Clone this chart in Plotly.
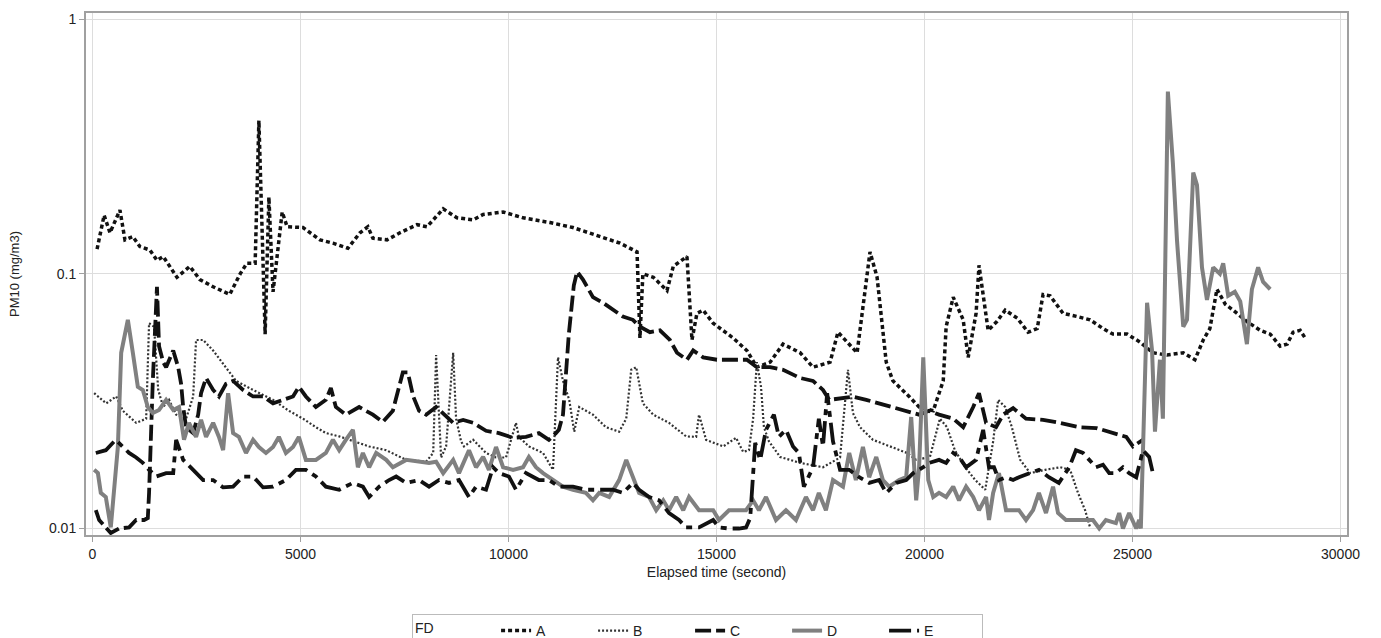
import plotly.graph_objects as go

# ---- data (seconds, mg/m3) ----
a_t = [110, 280, 420, 660, 780, 970, 1140, 1380, 1550, 1700, 2030, 2340, 2580, 2900, 3300, 3550, 3710, 3910,
       4000, 4100, 4150, 4240, 4340, 4560, 4680, 5060, 5470, 5780, 6140, 6430, 6620, 6740, 7080, 7390, 7800,
       8040, 8430, 8760, 9150, 9390, 9870, 10350, 11000, 11550, 12200, 12680, 13090, 13160, 13230, 13480,
       13810, 13960, 14290, 14410, 14530, 14680, 14920, 15400, 15730, 15970, 16290, 16600, 17010, 17320,
       17730, 17920, 18380, 18690, 18860, 19080, 19240, 19480, 19630, 19870, 20210, 20450, 20520, 20690,
       20930, 21050, 21240, 21310, 21530, 21740, 21940, 22230, 22490, 22710, 22850, 23020, 23330, 23670,
       23980, 24290, 24530, 24870, 25180, 25490, 25830, 26220, 26500, 26700, 26860, 27030, 27230, 27420,
       27750, 28070, 28310, 28550, 28720, 28860, 29030, 29150]
a_v = [0.125, 0.17, 0.145, 0.178, 0.136, 0.14, 0.128, 0.124, 0.113, 0.117, 0.097, 0.107, 0.095, 0.089, 0.083,
       0.1, 0.11, 0.11, 0.40, 0.09, 0.058, 0.2, 0.085, 0.175, 0.153, 0.152, 0.136, 0.132, 0.126, 0.145, 0.153,
       0.138, 0.136, 0.145, 0.156, 0.153, 0.18, 0.166, 0.163, 0.171, 0.175, 0.166, 0.159, 0.152, 0.14, 0.132,
       0.122, 0.056, 0.1, 0.097, 0.086, 0.107, 0.117, 0.055, 0.07, 0.072, 0.064, 0.056, 0.05, 0.043, 0.045,
       0.053, 0.049, 0.043, 0.045, 0.059, 0.049, 0.122, 0.097, 0.045, 0.038, 0.035, 0.033, 0.03, 0.029, 0.038,
       0.062, 0.081, 0.066, 0.047, 0.07, 0.108, 0.06, 0.065, 0.072, 0.067, 0.059, 0.061, 0.083, 0.082, 0.07,
       0.068, 0.066, 0.061, 0.058, 0.058, 0.054, 0.049, 0.048, 0.049, 0.046, 0.055, 0.061, 0.087, 0.076,
       0.072, 0.065, 0.06, 0.058, 0.052, 0.053, 0.059, 0.06, 0.056]

b_t = [40, 330, 570, 730, 1050, 1290, 1360, 1480, 1580, 1700, 1840, 2010, 2250, 2420, 2490, 2660, 2900, 3210,
       3450, 3860, 4340, 4720, 5060, 5370, 5610, 5930, 6260, 6650, 7060, 7540, 8020, 8190, 8260, 8330, 8380,
       8500, 8670, 8740, 8860, 8930, 9150, 9460, 9700, 9940, 10180, 10250, 10490, 10830, 11070, 11190, 11310,
       11460, 11580, 11700, 12030, 12340, 12660, 12830, 12950, 13070, 13230, 13480, 13860, 14270, 14510,
       14580, 14750, 15160, 15470, 15640, 15780, 15880, 15970, 16070, 16140, 16260, 16530, 17010, 17560,
       17970, 18160, 18280, 18450, 18760, 19170, 19580, 19800, 20130, 20370, 20540, 20730, 20980, 21220,
       21460, 21650, 21770, 21940, 22100, 22300, 22540, 22900, 23260, 23500, 23690, 23860, 23980]
b_v = [0.034, 0.031, 0.033, 0.029, 0.026, 0.027, 0.064, 0.062, 0.035, 0.030, 0.032, 0.028, 0.027, 0.033,
       0.055, 0.055, 0.05, 0.043, 0.038, 0.035, 0.032, 0.029, 0.027, 0.025, 0.0237, 0.023, 0.022, 0.021,
       0.0203, 0.0186, 0.0183, 0.0198, 0.048, 0.030, 0.019, 0.021, 0.049, 0.027, 0.022, 0.021, 0.0223,
       0.0198, 0.019, 0.019, 0.026, 0.0229, 0.021, 0.0198, 0.017, 0.047, 0.038, 0.032, 0.024, 0.030, 0.028,
       0.025, 0.024, 0.027, 0.042, 0.043, 0.031, 0.028, 0.026, 0.023, 0.0229, 0.028, 0.0223, 0.021, 0.0227,
       0.020, 0.0203, 0.027, 0.045, 0.036, 0.025, 0.022, 0.0191, 0.0181, 0.0174, 0.019, 0.042, 0.0284,
       0.025, 0.0223, 0.021, 0.0198, 0.0186, 0.0191, 0.027, 0.025, 0.0203, 0.0174, 0.0155, 0.0142, 0.022,
       0.032, 0.030, 0.025, 0.0186, 0.0165, 0.017, 0.0174, 0.017, 0.0138, 0.0118, 0.0101]

c_t = [80, 160, 320, 440, 640, 880, 1050, 1240, 1330, 1360, 1450, 1550, 1600, 1700, 1770, 1940, 2060, 2130,
       2180, 2250, 2420, 2540, 2610, 2730, 2900, 3040, 3210, 3380, 3620, 3860, 4100, 4340, 4580, 4820, 4960,
       5130, 5370, 5610, 5730, 5850, 6090, 6410, 6740, 6980, 7220, 7340, 7460, 7580, 7710, 7850, 8020, 8260,
       8450, 8670, 8910, 9150, 9460, 9770, 10110, 10420, 10730, 10970, 11140, 11210, 11310, 11450, 11570,
       11650, 11790, 12030, 12270, 12510, 12750, 12990, 13160, 13400, 13640, 13880, 14050, 14290, 14440,
       14680, 15010, 15400, 15730, 15970, 16290, 16600, 17010, 17320, 17560, 17710, 18040, 18280, 18600,
       18910, 19240, 19560, 19870, 20110, 20350, 20690, 20930, 21170, 21310, 21480, 21720, 21890, 22130,
       22440, 22850, 23240, 23720, 24130, 24530, 24850, 25010, 25250]
c_v = [0.0118, 0.0108, 0.0101, 0.0096, 0.01, 0.0101, 0.0108, 0.0108, 0.011, 0.0138, 0.038, 0.089, 0.052,
       0.045, 0.043, 0.05, 0.043, 0.037, 0.030, 0.025, 0.0237, 0.028, 0.034, 0.039, 0.035, 0.033, 0.037,
       0.038, 0.035, 0.033, 0.033, 0.031, 0.032, 0.033, 0.036, 0.033, 0.030, 0.032, 0.0356, 0.030, 0.028,
       0.030, 0.028, 0.0262, 0.029, 0.035, 0.041, 0.041, 0.033, 0.029, 0.028, 0.030, 0.028, 0.026, 0.0267,
       0.026, 0.0242, 0.0237, 0.0227, 0.0229, 0.0237, 0.0223, 0.0237, 0.0244, 0.028, 0.058, 0.09, 0.102,
       0.095, 0.081, 0.077, 0.072, 0.068, 0.066, 0.062, 0.059, 0.06, 0.055, 0.049, 0.046, 0.05, 0.047, 0.046,
       0.046, 0.046, 0.043, 0.043, 0.042, 0.039, 0.038, 0.035, 0.032, 0.0325, 0.0329, 0.032, 0.031, 0.030,
       0.029, 0.028, 0.029, 0.028, 0.027, 0.025, 0.030, 0.034, 0.026, 0.025, 0.028, 0.0297, 0.027, 0.0267,
       0.026, 0.025, 0.0248, 0.0237, 0.0229, 0.021, 0.0223]

d_t = [40, 130, 200, 320, 440, 520, 610, 690, 850, 970, 1090, 1210, 1330, 1450, 1600, 1770, 1940, 2080, 2200,
       2320, 2490, 2610, 2730, 2900, 3040, 3140, 3260, 3380, 3520, 3690, 3860, 4000, 4170, 4340, 4480, 4650,
       4820, 4960, 5130, 5370, 5610, 5780, 5930, 6090, 6260, 6380, 6500, 6650, 6820, 7060, 7220, 7540, 7850,
       8090, 8260, 8430, 8670, 8810, 9050, 9220, 9390, 9530, 9700, 9870, 10110, 10350, 10490, 10660, 10830,
       11070, 11310, 11550, 11860, 12030, 12180, 12420, 12660, 12830, 12990, 13140, 13380, 13550, 13720,
       13860, 14030, 14200, 14340, 14510, 14580, 14920, 15060, 15300, 15710, 15880, 16020, 16190, 16430,
       16670, 16910, 17150, 17320, 17460, 17630, 17800, 18040, 18190, 18350, 18520, 18670, 18840, 19000,
       19150, 19390, 19560, 19680, 19800, 19870, 19970, 20090, 20210, 20350, 20520, 20690, 20830, 21000,
       21170, 21310, 21480, 21550, 21650, 21790, 21960, 22130, 22270, 22440, 22610, 22750, 22920, 23090,
       23210, 23400, 23720, 24050, 24200, 24360, 24600, 24680, 24770, 24920, 25090, 25160, 25200, 25350,
       25470, 25540, 25660, 25730, 25850, 25970, 26070, 26220, 26310, 26460, 26550, 26670, 26790, 26940,
       27100, 27180, 27300, 27460, 27590, 27750, 27870, 28020, 28140, 28310]
d_v = [0.017, 0.0165, 0.0138, 0.0133, 0.0101, 0.0138, 0.0209, 0.049, 0.066, 0.049, 0.036, 0.035, 0.030,
       0.0284, 0.0292, 0.032, 0.0292, 0.030, 0.0223, 0.026, 0.0229, 0.0267, 0.0229, 0.026, 0.0229, 0.0203,
       0.034, 0.0237, 0.0229, 0.0198, 0.0223, 0.0209, 0.0198, 0.0209, 0.0229, 0.0198, 0.0209, 0.0229,
       0.0186, 0.0186, 0.0198, 0.0223, 0.0203, 0.0223, 0.0244, 0.0174, 0.0198, 0.0174, 0.0198, 0.0186,
       0.0174, 0.0186, 0.0183, 0.0181, 0.0183, 0.0165, 0.0186, 0.0165, 0.0203, 0.0174, 0.0191, 0.017,
       0.0209, 0.0174, 0.017, 0.0174, 0.0191, 0.0174, 0.0165, 0.0155, 0.0146, 0.0142, 0.0138, 0.0129,
       0.0138, 0.0133, 0.0155, 0.0186, 0.0159, 0.0138, 0.0133, 0.0118, 0.0129, 0.0118, 0.0133, 0.0118,
       0.0133, 0.0121, 0.0118, 0.0118, 0.0108, 0.0118, 0.0118, 0.0129, 0.0118, 0.0133, 0.0108, 0.0118,
       0.0108, 0.0133, 0.0118, 0.0138, 0.0118, 0.0155, 0.0146, 0.0198, 0.0155, 0.0209, 0.0159, 0.0191,
       0.0155, 0.0146, 0.0155, 0.0159, 0.0274, 0.0129, 0.0174, 0.047, 0.0155, 0.0133, 0.0138, 0.0133,
       0.0146, 0.0129, 0.0146, 0.0133, 0.0118, 0.0133, 0.0108, 0.0138, 0.0165, 0.0118, 0.0118, 0.0118,
       0.0108, 0.0118, 0.0138, 0.0115, 0.0146, 0.0115, 0.0108, 0.0108, 0.0108, 0.01, 0.0108, 0.0105,
       0.0115, 0.01, 0.0115, 0.01, 0.0108, 0.01, 0.077, 0.05, 0.024, 0.046, 0.027, 0.52, 0.273, 0.135,
       0.062, 0.066, 0.25, 0.223, 0.106, 0.079, 0.106, 0.1, 0.11, 0.082, 0.085, 0.078, 0.053, 0.087, 0.106,
       0.093, 0.087]

e_t = [80, 320, 560, 730, 880, 1050, 1210, 1360, 1530, 1770, 1940, 2010, 2180, 2420, 2660, 2900, 3140, 3380,
       3620, 3860, 4100, 4340, 4650, 4890, 5130, 5370, 5610, 5930, 6260, 6500, 6650, 6890, 7130, 7300, 7540,
       7850, 8090, 8330, 8570, 8810, 9050, 9220, 9460, 9630, 9770, 10010, 10180, 10420, 10590, 10730, 10970,
       11210, 11550, 11860, 12180, 12510, 12750, 12990, 13140, 13380, 13620, 13860, 14100, 14270, 14580,
       14920, 15060, 15300, 15540, 15710, 15810, 15930, 16050, 16190, 16380, 16500, 16670, 16840, 16980,
       17100, 17320, 17460, 17560, 17660, 17800, 17970, 18190, 18430, 18670, 18910, 19080, 19320, 19560,
       19730, 19970, 20110, 20350, 20520, 20690, 20830, 21000, 21240, 21410, 21550, 21670, 21790, 21960,
       22130, 22270, 22510, 22750, 22990, 23230, 23480, 23640, 23810, 23960, 24120, 24290, 24440, 24600,
       24770, 24920, 25090, 25250, 25400, 25490]
e_v = [0.0198, 0.0203, 0.0223, 0.0209, 0.0198, 0.019, 0.0181, 0.017, 0.016, 0.0165, 0.0165, 0.0223, 0.0186,
       0.017, 0.0155, 0.0155, 0.0145, 0.0146, 0.016, 0.016, 0.0145, 0.0146, 0.0155, 0.017, 0.017, 0.016,
       0.0146, 0.0142, 0.0151, 0.0146, 0.0133, 0.0146, 0.0155, 0.016, 0.0151, 0.0155, 0.0146, 0.0155,
       0.0151, 0.0155, 0.0133, 0.0146, 0.0142, 0.0174, 0.0165, 0.016, 0.0142, 0.0165, 0.016, 0.0155,
       0.0155, 0.0146, 0.0146, 0.0142, 0.0142, 0.0142, 0.0138, 0.0151, 0.0142, 0.0133, 0.0129, 0.0115,
       0.0108, 0.0101, 0.0101, 0.0108, 0.0101, 0.01, 0.01, 0.0101, 0.011, 0.0217, 0.0186, 0.0244, 0.028,
       0.0229, 0.0244, 0.021, 0.0198, 0.0146, 0.0174, 0.027, 0.021, 0.034, 0.022, 0.017, 0.017, 0.0159,
       0.0151, 0.0155, 0.0138, 0.0151, 0.0155, 0.0165, 0.0174, 0.0181, 0.0186, 0.0181, 0.0198, 0.0191,
       0.0174, 0.0186, 0.0244, 0.0174, 0.0174, 0.0155, 0.0159, 0.0155, 0.0159, 0.0165, 0.017, 0.0159,
       0.0151, 0.0174, 0.0203, 0.0198, 0.0186, 0.0174, 0.0178, 0.0165, 0.0165, 0.0174, 0.0165, 0.0159,
       0.0203, 0.0191, 0.0165]

series_names = ["A", "B", "C", "D", "E"]
x_ticks = [0, 5000, 10000, 15000, 20000, 25000, 30000]
y_ticks = [0.01, 0.1, 1]
y_tick_text = ["0.01", "0.1", "1"]

styles = {
    "A": dict(color="#111111", width=3.5, dash="4px,3px"),
    "B": dict(color="#333333", width=2.2, dash="2px,2px"),
    "C": dict(color="#111111", width=3.8, dash="16px,5px"),
    "D": dict(color="#808080", width=4),
    "E": dict(color="#111111", width=3.8, dash="22px,6px,6px,6px"),
}

data = {"A": (a_t, a_v), "B": (b_t, b_v), "C": (c_t, c_v), "D": (d_t, d_v), "E": (e_t, e_v)}

fig = go.Figure()
for name in series_names:
    t, v = data[name]
    fig.add_trace(go.Scatter(x=t, y=v, mode="lines", name=name, line=styles[name]))

font_family = "Liberation Sans, Arial, sans-serif"
pad = "&nbsp;" * 14
fig.update_layout(
    width=1381, height=638,
    margin=dict(l=86, r=34, t=13, b=103),
    paper_bgcolor="white", plot_bgcolor="white",
    font=dict(family=font_family, size=14, color="#222222"),
    showlegend=True,
    legend=dict(
        orientation="h", xref="container", yref="container",
        x=0.2983, y=0.0376, xanchor="left", yanchor="top",
        title=dict(text="FD" + pad, side="left", font=dict(size=14)),
        font=dict(size=14), bordercolor="#bbbbbb", borderwidth=1,
        entrywidth=52, entrywidthmode="pixels", tracegroupgap=0,
        itemwidth=30,
    ),
)
fig.update_xaxes(
    range=[-156, 30156], tickvals=x_ticks, tickformat="d",
    showgrid=True, gridcolor="#dddddd", gridwidth=1,
    showline=True, linecolor="#a0a0a0", linewidth=2, mirror=True,
    ticks="outside", ticklen=5, tickcolor="#a0a0a0",
    zeroline=False,
    title=dict(text="Elapsed time (second)", font=dict(size=14), standoff=6),
    tickfont=dict(size=14),
)
fig.update_yaxes(
    type="log", range=[-2.0255, 0.0244], tickvals=y_ticks, ticktext=y_tick_text,
    showgrid=True, gridcolor="#dddddd", gridwidth=1,
    showline=True, linecolor="#a0a0a0", linewidth=2, mirror=True,
    ticks="outside", ticklen=5, tickcolor="#a0a0a0",
    zeroline=False,
    title=dict(text="PM10 (mg/m3)", font=dict(size=13), standoff=26),
    tickfont=dict(size=14),
)

fig.write_html("out.html")
